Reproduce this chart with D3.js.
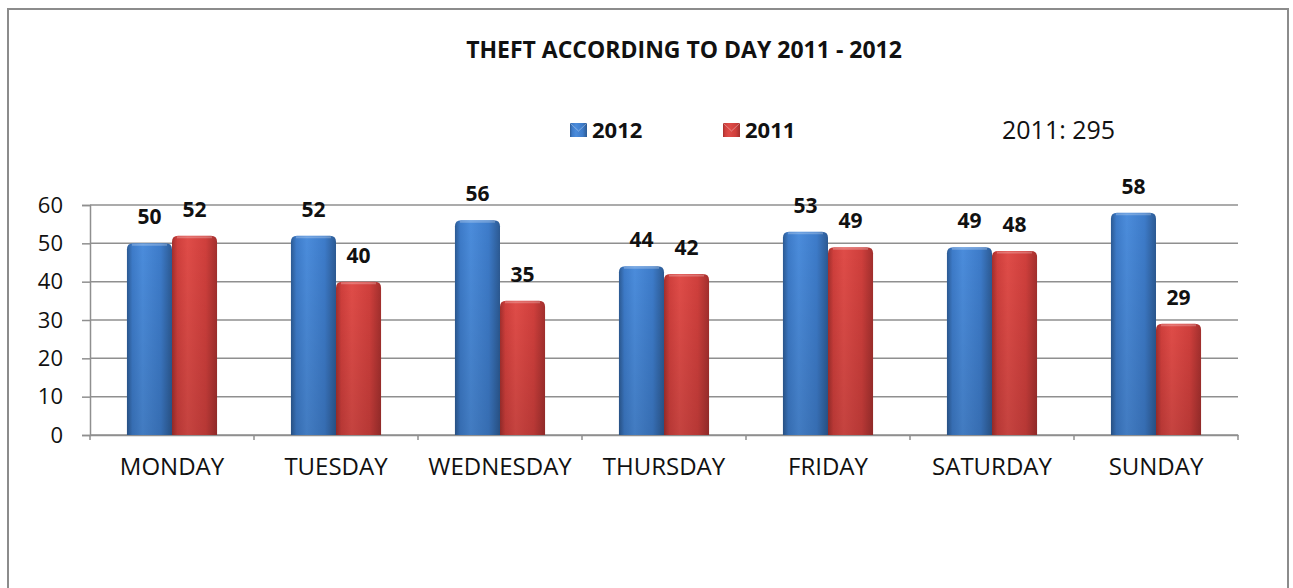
<!DOCTYPE html>
<html><head><meta charset="utf-8">
<script src="https://cdn.jsdelivr.net/npm/d3@7"></script>
<style>
html,body{margin:0;padding:0;background:#fff;}
svg{display:block;}
text{font-family:"Open Sans",sans-serif;}
</style></head>
<body>
<svg id="chart" width="1293" height="588"></svg>
<script>
const categories = ["MONDAY","TUESDAY","WEDNESDAY","THURSDAY","FRIDAY","SATURDAY","SUNDAY"];
const series2012 = [50,52,56,44,53,49,58];
const series2011 = [52,40,35,42,49,48,29];
const seriesNames = ["2012","2011"];
const yTicks = [0,10,20,30,40,50,60];
const titleText = "THEFT ACCORDING TO DAY 2011 - 2012";
const noteText = "2011: 295";

const svg = d3.select("#chart");
const defs = svg.append("defs");

function makeGrad(id, edge, mid, light){
  const g = defs.append("linearGradient").attr("id", id).attr("x1","0").attr("x2","1").attr("y1","0").attr("y2","0");
  g.append("stop").attr("offset","0%").attr("stop-color", edge);
  g.append("stop").attr("offset","12%").attr("stop-color", mid);
  g.append("stop").attr("offset","35%").attr("stop-color", light);
  g.append("stop").attr("offset","75%").attr("stop-color", mid);
  g.append("stop").attr("offset","100%").attr("stop-color", edge);
}
makeGrad("gBlue", "#2c5a93", "#3d7bc9", "#4b8cdb");
makeGrad("gRed", "#a22f2d", "#cf3f3c", "#df4c48");
const shade = defs.append("linearGradient").attr("id","gShade").attr("x1","0").attr("x2","0").attr("y1","0").attr("y2","1");
shade.append("stop").attr("offset","0%").attr("stop-color","#000").attr("stop-opacity",0);
shade.append("stop").attr("offset","100%").attr("stop-color","#000").attr("stop-opacity",0.12);

// Border
svg.append("rect").attr("x",8).attr("y",9).attr("width",1280).attr("height",600)
  .attr("fill","none").attr("stroke","#8c8c8c").attr("stroke-width",2);

const plotLeft = 90, plotRight = 1238, plotTop = 205, plotBottom = 435;
const x = d3.scaleBand().domain(categories).range([plotLeft, plotRight]).paddingInner(0).paddingOuter(0);
const xs = d3.scaleBand().domain(seriesNames).range([0, x.bandwidth()]).paddingInner(0).paddingOuter(0.82);
const y = d3.scaleLinear().domain([0,60]).range([plotBottom, plotTop]);

// gridlines
svg.append("g").selectAll("line").data(yTicks).join("line")
  .attr("x1", plotLeft).attr("x2", plotRight)
  .attr("y1", d=>y(d)).attr("y2", d=>y(d))
  .attr("stroke","#8f8f8f").attr("stroke-width",1.5);

// y axis
const yAxis = svg.append("g").attr("transform",`translate(${plotLeft},0)`)
  .call(d3.axisLeft(y).tickValues(yTicks).tickSize(8).tickPadding(19));
yAxis.select(".domain").attr("stroke","#8f8f8f").attr("stroke-width",1.5);
yAxis.selectAll(".tick line").attr("stroke","#8f8f8f").attr("stroke-width",1.5);
yAxis.selectAll(".tick text").attr("font-family","Open Sans").attr("font-size",22).attr("fill","#111");

// x axis
const xAxis = svg.append("g").attr("transform",`translate(0,${plotBottom})`)
  .call(d3.axisBottom(x).tickSize(0).tickPadding(23));
xAxis.select(".domain").attr("stroke","#8f8f8f").attr("stroke-width",1.5);
xAxis.selectAll(".tick text").attr("font-family","Open Sans").attr("font-size",24).attr("fill","#111");
// category boundary ticks
svg.append("g").selectAll("line").data(categories.map((c,i)=>i).concat([categories.length])).join("line")
  .attr("x1", i=> plotLeft + i*x.step()).attr("x2", i=> plotLeft + i*x.step())
  .attr("y1", plotBottom).attr("y2", plotBottom+5)
  .attr("stroke","#8f8f8f").attr("stroke-width",1.5);

// bars
const rows = [];
categories.forEach((c,i)=>{
  rows.push({cat:c, s:"2012", v:series2012[i], fill:"url(#gBlue)"});
  rows.push({cat:c, s:"2011", v:series2011[i], fill:"url(#gRed)"});
});
function barPath(x0, w, yt, yb){
  const r = 6;
  return `M${x0},${yb} L${x0},${yt+r} Q${x0},${yt} ${x0+r},${yt} L${x0+w-r},${yt} Q${x0+w},${yt} ${x0+w},${yt+r} L${x0+w},${yb} Z`;
}
const bars = svg.append("g");
rows.forEach(d=>{
  const bx = x(d.cat) + xs(d.s);
  const bw = xs.bandwidth();
  const p = barPath(bx, bw, y(d.v), y(0));
  bars.append("path").attr("d", p).attr("fill", d.fill);
  bars.append("path").attr("d", p).attr("fill", "url(#gShade)");
  bars.append("path").attr("d", `M${bx+5},${y(d.v)+1.5} L${bx+bw-5},${y(d.v)+1.5}`)
    .attr("stroke","#fff").attr("stroke-opacity",0.25).attr("stroke-width",2);
});
// data labels
svg.append("g").selectAll("text").data(rows).join("text")
  .attr("x", d=> x(d.cat)+xs(d.s)+xs.bandwidth()/2)
  .attr("y", d=> y(d.v) - 19)
  .attr("text-anchor","middle")
  .attr("font-family","Open Sans").attr("font-weight","bold").attr("font-size",21).attr("fill","#111")
  .text(d=>d.v);

// title
svg.append("text").attr("x",684).attr("y",58).attr("text-anchor","middle")
  .attr("font-family","Open Sans").attr("font-weight","bold").attr("font-size",23).attr("fill","#111")
  .text(titleText);

// legend
const legend = [{name:seriesNames[0], fill:"url(#gBlue)", x:570},{name:seriesNames[1], fill:"url(#gRed)", x:723}];
const lg = svg.append("g");
legend.forEach(l=>{
  lg.append("rect").attr("x",l.x).attr("y",123).attr("width",17).attr("height",14).attr("fill",l.fill);
  lg.append("path").attr("d",`M${l.x},${123} L${l.x+8.5},${131} L${l.x+17},${123}`).attr("fill","none").attr("stroke","#fff").attr("stroke-opacity",0.35).attr("stroke-width",1);
  lg.append("text").attr("x",l.x+22).attr("y",138).attr("font-family","Open Sans").attr("font-weight","bold").attr("font-size",22).attr("fill","#111").text(l.name);
});

// note
svg.append("text").attr("x",1002).attr("y",139).attr("font-family","Open Sans").attr("font-size",25).attr("fill","#111").text(noteText);
</script>
</body></html>
